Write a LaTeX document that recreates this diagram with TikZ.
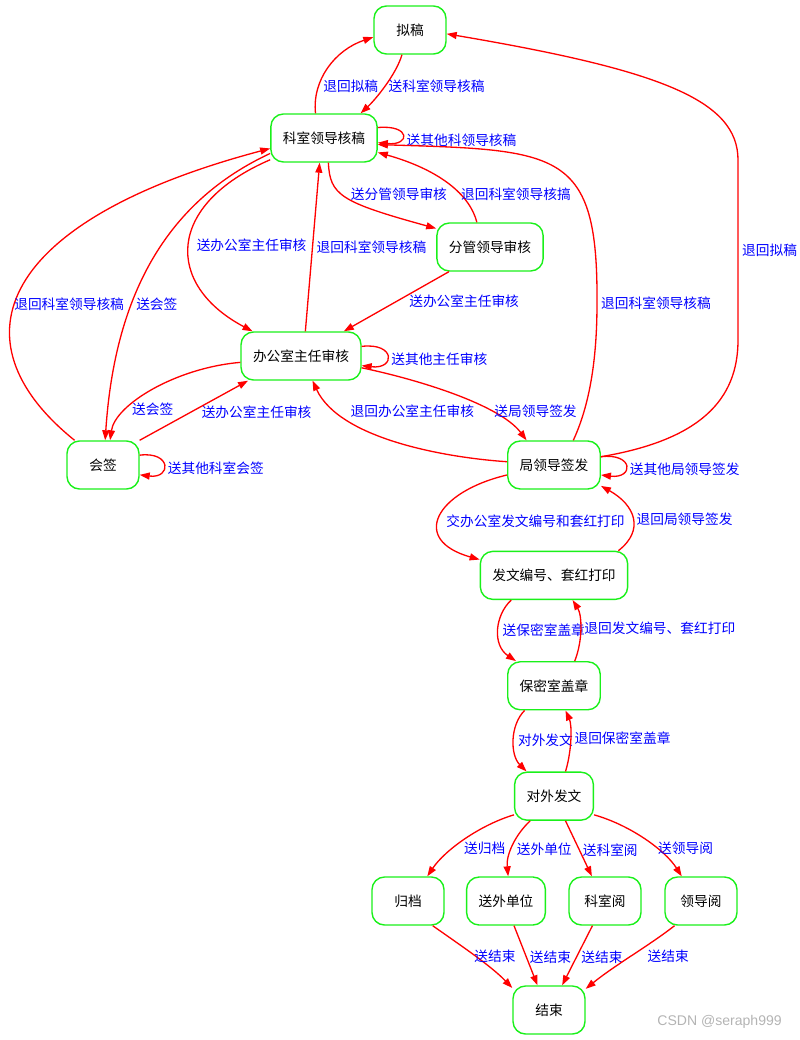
\documentclass[tikz,border=0pt]{standalone}
\usepackage{fontspec}
\setmainfont{Noto Sans CJK SC}
\newfontfamily\markfont{Liberation Sans}
\usetikzlibrary{arrows.meta,positioning}
\definecolor{NodeGreen}{HTML}{1AF01A}
\definecolor{EdgeRed}{HTML}{FF0000}
\definecolor{LabelBlue}{HTML}{0000FF}
\definecolor{MarkGrey}{HTML}{B4B4B4}

\begin{document}
\begin{tikzpicture}[
    x=0.02cm, y=-0.02cm,
    node distance=1.22cm,
    box/.style={draw=NodeGreen, line width=0.8pt, rounded corners=0.25cm, minimum width=1.44cm, minimum height=0.96cm, inner xsep=0.24cm, font=\fontsize{7.8pt}{9pt}\selectfont},
    arrow/.style={-{Triangle[length=0.2cm, width=0.14cm]}, line width=0.75pt, draw=EdgeRed},
    lbl/.style={text=LabelBlue, font=\fontsize{7.8pt}{9pt}\selectfont, inner sep=2pt}
  ]
    \useasboundingbox (0,0) rectangle (800,1040);
    \node[box] (draft) at (410,30) {拟稿};
    \node[box] (sect) at (324,138) {科室领导核稿};
    \node[box] (deputy) at (490,247) {分管领导审核};
    \node[box] (office) at (301,356) {办公室主任审核};
    \node[box] (cosign) at (103,465) {会签};
    \node[box] (bureau) at (554,465) {局领导签发};
    \node[box, below=of bureau] (numbering) {发文编号、套红打印};
    \node[box, below=of numbering] (seal) {保密室盖章};
    \node[box, below=of seal] (release) {对外发文};
    \node[box] (archive) at (408,901) {归档};
    \node[box] (outside) at (506,901) {送外单位};
    \node[box] (secread) at (605,901) {科室阅};
    \node[box] (leadread) at (701,901) {领导阅};
    \node[box] (finish) at (549,1010) {结束};
    \node[text=MarkGrey, font=\markfont\fontsize{8pt}{10pt}\selectfont, anchor=west, inner sep=0pt] (mark) at (657,1022) {CSDN @seraph999};

    \draw[arrow] (draft.-108) .. controls (396,75) and (375,100) .. node[lbl, pos=.5, right]{送科室领导核稿} (sect.34);
    \draw[arrow] (sect.109) .. controls (312,80) and (335,50) .. node[lbl, pos=.3, right, yshift=-1pt]{退回拟稿} (draft.191);
    \draw[arrow] (sect.11) .. controls +(33,-3) and +(33,3) .. node[lbl, pos=.5, right, yshift=-3pt]{送其他科领导核稿} (sect.-5);
    \draw[arrow] (sect.-80) .. controls (330,195) and (340,202) .. node[lbl, pos=.5, right, yshift=2pt]{送分管领导审核} (deputy.161);
    \draw[arrow] (deputy.118) .. controls (470,195) and (440,170) .. node[lbl, pos=.4, right, yshift=-2pt]{退回科室领导核搞} (sect.-15);
    \draw[arrow] (deputy.-149) -- node[lbl, midway, right=5pt]{送办公室主任审核} (office.30);
    \draw[arrow] (sect.-158) .. controls (165,205) and (165,285) .. node[lbl, pos=.5, right=2pt]{送办公室主任审核} (office.153);
    \draw[arrow] (office.80) -- node[lbl, midway, right]{退回科室领导核稿} (sect.-100);
    \draw[arrow] (sect.-164) .. controls (170,200) and (115,290) .. node[lbl, pos=.65, right]{送会签} (cosign.85);
    \draw[arrow] (cosign.139) .. controls (-50,340) and (0,220) .. node[lbl, pos=.44, right, xshift=-3pt, yshift=-1pt]{退回科室领导核稿} (sect.191);
    \draw[arrow] (office.186) .. controls (175,368) and (115,405) .. node[lbl, pos=.7, right]{送会签} (cosign.74);
    \draw[arrow] (cosign.34) -- node[lbl, pos=.47, right=4pt]{送办公室主任审核} (office.-155);
    \draw[arrow] (cosign.15) .. controls +(32,-4) and +(32,4) .. node[lbl, pos=.5, right, yshift=-2pt]{送其他科室会签} (cosign.-15);
    \draw[arrow] (office.9) .. controls +(34,-4) and +(34,4) .. node[lbl, pos=.5, right, yshift=-2pt]{送其他主任审核} (office.-9);
    \draw[arrow] (office.-11) .. controls (420,380) and (500,405) .. node[lbl, pos=.7, right]{送局领导签发} (bureau.138);
    \draw[arrow] (bureau.176) .. controls (450,458) and (340,440) .. node[lbl, pos=.75, anchor=west, yshift=4pt]{退回办公室主任审核} (office.-65);
    \draw[arrow] (bureau.52) .. controls (592,400) and (597,350) .. (597,303) node[lbl, right]{退回科室领导核稿} .. controls (598,150) and (560,150) .. (sect.-7);
    \draw[arrow] (bureau.10) .. controls (700,440) and (738,400) .. (738,340) -- node[lbl, right]{退回拟稿} (738,160) .. controls (738,100) and (660,70) .. (draft.-6);
    \draw[arrow] (bureau.10) .. controls +(33,-4) and +(33,4) .. node[lbl, pos=.5, right, yshift=-2pt]{送其他局领导签发} (bureau.-12);
    \draw[arrow] (bureau.192) .. controls (435,492) and (410,540) .. node[lbl, pos=.55, right=2pt]{交办公室发文编号和套红打印} (numbering.168);
    \draw[arrow] (numbering.21) .. controls (645,530) and (635,505) .. node[lbl, pos=.5, right, yshift=-1pt]{退回局领导签发} (bureau.-24);
    \draw[arrow] (numbering.-150) .. controls (495,615) and (492,645) .. node[lbl, pos=.5, right]{送保密室盖章} (seal.147);
    \draw[arrow] (seal.50) .. controls (583,640) and (582,615) .. node[lbl, pos=.5, right]{退回发文编号、套红打印} (numbering.-53);
    \draw[arrow] (seal.-140) .. controls (510,725) and (510,755) .. node[lbl, pos=.5, right]{对外发文} (release.138);
    \draw[arrow] (release.65) .. controls (572,750) and (572,725) .. node[lbl, pos=.5, right]{退回保密室盖章} (seal.-65);
    \draw[arrow] (release.205) .. controls (480,825) and (445,850) .. node[lbl, pos=.55, right, yshift=-3pt]{送归档} (archive.52);
    \draw[arrow] (release.-134) .. controls (515,835) and (506,855) .. node[lbl, pos=.5, right, yshift=-2pt]{送外单位} (outside.85);
    \draw[arrow] (release.-65) -- node[lbl, midway, right, yshift=-1pt]{送科室阅} (secread.118);
    \draw[arrow] (release.-25) .. controls (630,825) and (665,850) .. node[lbl, pos=.6, right, yshift=-1pt]{送领导阅} (leadread.128);
    \draw[arrow] (archive.-45) .. controls (460,945) and (490,965) .. node[lbl, pos=.45, right, yshift=-2pt]{送结束} (finish.149);
    \draw[arrow] (outside.-72) -- node[lbl, midway, right, yshift=-1pt]{送结束} (finish.115);
    \draw[arrow] (secread.-117) -- node[lbl, midway, right, yshift=-1pt]{送结束} (finish.62);
    \draw[arrow] (leadread.-137) .. controls (650,945) and (615,965) .. node[lbl, pos=.45, right=4pt, yshift=-2pt]{送结束} (finish.30);
  \end{tikzpicture}
\end{document}
